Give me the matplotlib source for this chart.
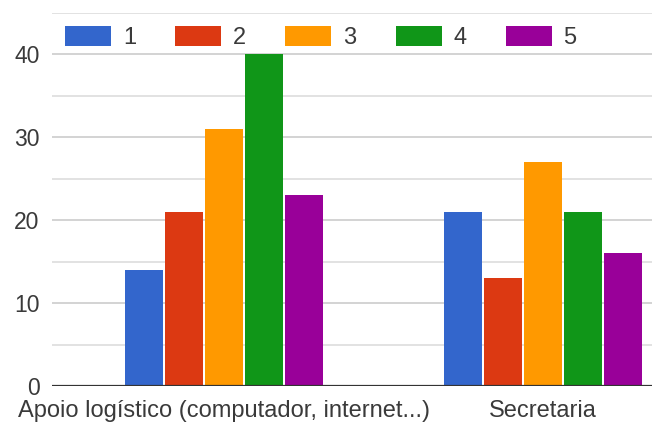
import numpy as np
import matplotlib.pyplot as plt

# categories and values
categories = ["Apoio logístico (computador, internet...)", "Secretaria"]
series_names = ["1", "2", "3", "4", "5"]
values = {
    "1": [14, 21],
    "2": [21, 13],
    "3": [31, 27],
    "4": [40, 21],
    "5": [23, 16],
}
colors = ["#3366cc", "#dc3912", "#ff9900", "#109618", "#990099"]
y_ticks = [0, 10, 20, 30, 40]

plt.rcParams['font.family'] = ['Liberation Sans', 'DejaVu Sans']

fig = plt.figure(figsize=(6.52, 4.29), dpi=100)
ax = fig.add_axes([52 / 652, 43 / 429, 600 / 652, 373 / 429])

x = np.arange(len(categories))
pitch = 40 / 319
width = 38 / 319
for i, name in enumerate(series_names):
    ax.bar(x + (i - 2) * pitch, values[name], width=width, color=colors[i],
           label=name, zorder=3)

ax.set_xlim(-172 / 319, 1 + 109 / 319)
ax.set_ylim(0, 45)
ax.set_yticks(y_ticks)
ax.set_yticks([5, 15, 25, 35, 45], minor=True)
ax.set_xticks(x)
ax.set_xticklabels(categories)

ax.grid(axis='y', which='major', color='#cccccc', lw=1.2, zorder=0)
ax.grid(axis='y', which='minor', color='#dddddd', lw=1.2, zorder=0)
ax.axhline(0, color='#333333', lw=1.6, zorder=4)
for s in ax.spines.values():
    s.set_visible(False)
ax.tick_params(axis='both', which='both', length=0, labelsize=17, colors='#3a3a3a')
ax.tick_params(axis='y', pad=9, labelsize=16.5)
ax.tick_params(axis='x', pad=10)

ax.legend(loc='center left', bbox_to_anchor=(13 / 600, 1.0 - 24.5 / 373), ncol=5,
          frameon=False, fontsize=17, handlelength=1.95, handleheight=0.89,
          handletextpad=0.5, columnspacing=1.66, borderaxespad=0, borderpad=0,
          labelcolor='#3a3a3a')

plt.savefig("out.png", dpi=100)
